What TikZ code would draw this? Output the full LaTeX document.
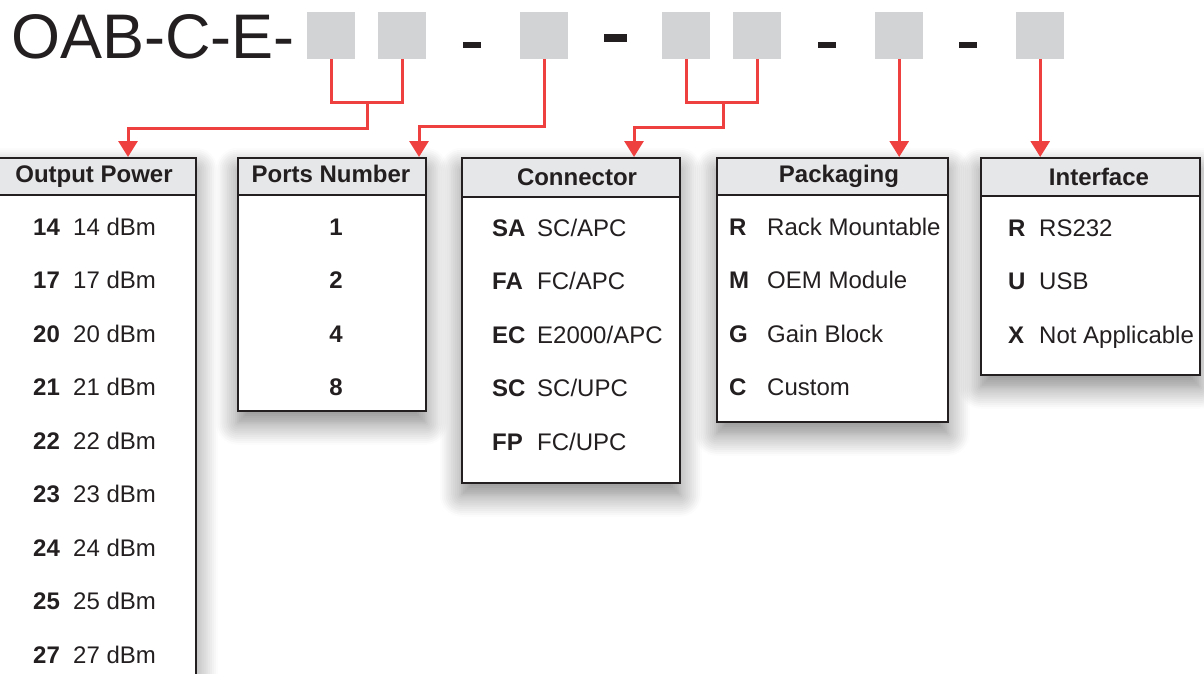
\documentclass[tikz,border=0pt]{standalone}
\usepackage{xcolor}
\usepackage{fontspec}
\setmainfont{Liberation Sans}
\usepackage{tikz}
\usetikzlibrary{arrows.meta, shadows.blur}
\definecolor{feedred}{RGB}{239, 64, 64}
\definecolor{slotgray}{RGB}{209, 211, 212}
\definecolor{headgray}{RGB}{230, 231, 232}
\definecolor{inkblack}{RGB}{35, 31, 32}

\tikzset{
  slot/.style={fill=slotgray, minimum width=48pt, minimum height=47pt,
    inner sep=0pt, anchor=north west},
  listbox/.style={draw=inkblack, line width=1.5pt, fill=white, inner sep=0pt,
    anchor=north west,
    blur shadow={shadow xshift=0pt, shadow yshift=-12pt,
      shadow blur radius=22pt, shadow blur steps=12, shadow opacity=50}},
  headbox/.style={draw=inkblack, line width=1.5pt, fill=headgray, inner sep=0pt,
    anchor=north west, minimum height=37pt},
  headtext/.style={anchor=base, inner sep=0pt, text=inkblack,
    font=\fontsize{24}{28}\selectfont\bfseries},
  codetext/.style={anchor=base west, inner sep=0pt, text=inkblack,
    font=\fontsize{24}{28}\selectfont\bfseries},
  valtext/.style={anchor=base west, inner sep=0pt, text=inkblack,
    font=\fontsize{24}{28}\selectfont},
  feed/.style={draw=feedred, line width=3pt},
  feedtip/.style={feed, -{Triangle[width=19pt, length=16pt]}}
}

\begin{document}
\begin{tikzpicture}[x=1pt, y=-1pt]
  \useasboundingbox (0,0) rectangle (1204,673);

  %% part number
  \node[anchor=base west, inner sep=0pt, text=inkblack,
        font=\fontsize{63}{70}\selectfont] (title) at (11,58) {OAB-C-E-};
  \foreach \x [count=\i] in {307,378,520,662,733,875,1016}
    \node[slot] (sq\i) at (\x,12) {};
  \fill[inkblack] (463,42) rectangle (481,48);
  \fill[inkblack] (604,34) rectangle (627,42);
  \fill[inkblack] (818,42) rectangle (836,48);
  \fill[inkblack] (959,42) rectangle (977,48);

  %% option boxes
  \node[listbox, minimum width=202pt, minimum height=543pt] (power) at (-7,157) {};
  \node[headbox, minimum width=202pt] (powerhead) at (-7,157) {};
  \node[headtext] (powertitle) at (94,182) {Output Power};

  \node[listbox, minimum width=188pt, minimum height=253pt] (ports) at (237,157) {};
  \node[headbox, minimum width=188pt] (portshead) at (237,157) {};
  \node[headtext] (portstitle) at (331,182) {Ports Number};

  \node[listbox, minimum width=218pt, minimum height=325pt] (conn) at (461,157) {};
  \node[headbox, minimum width=218pt, minimum height=39pt] (connhead) at (461,157) {};
  \node[headtext] (conntitle) at (577,185) {Connector};

  \node[listbox, minimum width=231pt, minimum height=264pt] (pack) at (716,157) {};
  \node[headbox, minimum width=231pt] (packhead) at (716,157) {};
  \node[headtext] (packtitle) at (839,182) {Packaging};

  \node[listbox, minimum width=219pt, minimum height=217pt] (iface) at (980,157) {};
  \node[headbox, minimum width=219pt, minimum height=38pt] (ifacehead) at (980,157) {};
  \node[headtext] (ifacetitle) at (1099,185) {Interface};

  %% entries
  \foreach \v [count=\i] in {14,17,20,21,22,23,24,25,27} {
    \node[codetext] (pw\i) at (33,235+53.5*\i-53.5) {\v};
    \node[valtext] at (73,235+53.5*\i-53.5) {\v\ dBm};
  }
  \foreach \v [count=\i] in {1,2,4,8}
    \node[headtext] (pt\i) at (336,235+53.5*\i-53.5) {\v};
  \foreach \c/\v [count=\i] in {SA/{SC/APC}, FA/{FC/APC}, EC/{E2000/APC},
                                SC/{SC/UPC}, FP/{FC/UPC}} {
    \node[codetext] (cn\i) at (492,236+53.5*\i-53.5) {\c};
    \node[valtext] at (537,236+53.5*\i-53.5) {\v};
  }
  \foreach \c/\v [count=\i] in {R/Rack Mountable, M/OEM Module,
                                G/Gain Block, C/Custom} {
    \node[codetext] (pk\i) at (729,235+53.5*\i-53.5) {\c};
    \node[valtext] at (767,235+53.5*\i-53.5) {\v};
  }
  \foreach \c/\v [count=\i] in {R/RS232, U/USB, X/Not Applicable} {
    \node[codetext] (if\i) at (1008,236+53.5*\i-53.5) {\c};
    \node[valtext] at (1039,236+53.5*\i-53.5) {\v};
  }

  %% red feeds
  \coordinate (j1) at (367,102);
  \coordinate (j2) at (723,102);
  \coordinate (powerin) at (128,157);
  \coordinate (portsin) at (419,157);
  \coordinate (connin) at (634,157);
  \draw[feed] (sq1.south) |- (j1) -| (sq2.south);
  \draw[feedtip] (j1) -- ++(0,26) -| (powerin);
  \draw[feedtip] (sq3.south) -- ++(0,67) -| (portsin);
  \draw[feed] (sq4.south) |- (j2) -| (sq5.south);
  \draw[feedtip] (j2) -- ++(0,25) -| (connin);
  \draw[feedtip] (sq6.south) -- (sq6.south |- packhead.north);
  \draw[feedtip] (sq7.south) -- (sq7.south |- ifacehead.north);
\end{tikzpicture}
\end{document}
